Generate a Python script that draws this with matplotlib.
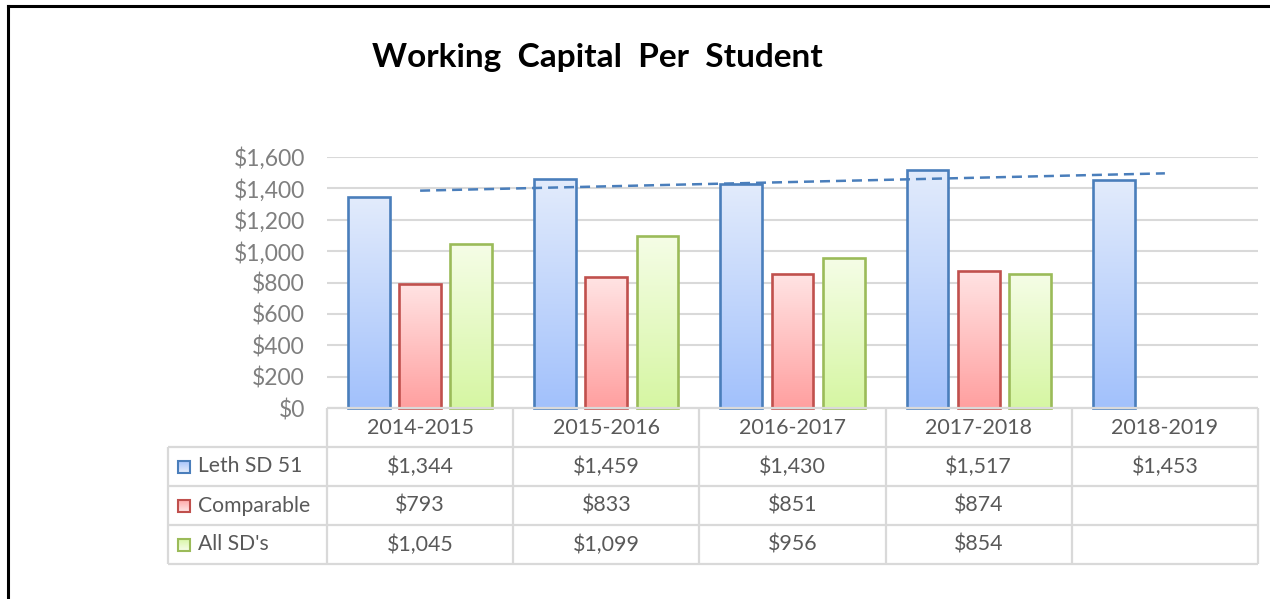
#!/usr/bin/env python3

import matplotlib as mpl
mpl.use('Agg')
import matplotlib.pyplot as plt
import numpy as np
from matplotlib.colors import LinearSegmentedColormap
from matplotlib.lines import Line2D
from matplotlib.patches import Rectangle

#======================================================================

years = ['2014-2015', '2015-2016', '2016-2017', '2017-2018', '2018-2019']
series_names = ['Leth SD 51', 'Comparable', "All SD's"]
leth = [1344, 1459, 1430, 1517, 1453]
comparable = [793, 833, 851, 874, None]
all_sds = [1045, 1099, 956, 854, None]
yticks = [0, 200, 400, 600, 800, 1000, 1200, 1400, 1600]
title = 'Working  Capital  Per  Student'

# (top colour, bottom colour, edge colour)
styles = [
    ('#e2ebfc', '#a2c1fb', '#4a7ebb'),  # blue
    ('#ffe3e3', '#ffa0a0', '#c0504d'),  # red
    ('#f5fde6', '#d6f6a3', '#9bbb59'),  # green
]

W, H = 1270, 599
TICK_COLOR = '#7f7f7f'
TEXT_COLOR = '#595959'
GRID_COLOR = '#d9d9d9'

plt.rcParams['font.family'] = ['Lato', 'DejaVu Sans']

#======================================================================

def px_axes(fig, x0, y0, x1, y1):
    return fig.add_axes([x0/W, 1 - y1/H, (x1 - x0)/W, (y1 - y0)/H])

def gradient_rect(ax, x0, y0, w, h, style, lw=1.5, zorder=3):
    top, bottom, edge = style
    cmap = LinearSegmentedColormap.from_list('g', [top, bottom])
    grad = np.linspace(0, 1, 64).reshape(-1, 1)
    im = ax.imshow(grad, cmap=cmap, extent=(x0, x0 + w, y0, y0 + h),
                   origin='upper' if h > 0 else 'lower', aspect='auto',
                   zorder=zorder - 0.5, interpolation='bilinear')
    rect = Rectangle((x0, y0), w, h, facecolor='none', edgecolor=edge,
                     lw=lw, zorder=zorder, clip_on=False)
    ax.add_patch(rect)
    im.set_clip_path(rect)
    return rect

#======================================================================

fig = plt.figure(figsize=(W/100, H/100), dpi=100)

# chart area
ax = px_axes(fig, 327, 157, 1258, 408)
for s in ax.spines.values():
    s.set_visible(False)

all_series = [leth, comparable, all_sds]
offsets = [-0.275, 0.0, 0.275]
bw = 0.225
for vals, off, style in zip(all_series, offsets, styles):
    for i, v in enumerate(vals):
        if v is None:
            continue
        gradient_rect(ax, i + off - bw/2, 0, bw, v, style, lw=1.9)

# linear trendline of Leth SD 51
xs = np.arange(len(leth))
coef = np.polyfit(xs, leth, 1)
ax.plot(xs[[0, -1]], np.polyval(coef, xs[[0, -1]]), color='#4a7ebb',
        lw=1.8, ls=(0, (4.0, 2.4)), zorder=4)

ax.set_xlim(-0.5, len(years) - 0.5)
ax.set_ylim(0, 1600)
ax.set_xticks([])
ax.set_yticks(yticks)
ax.set_yticklabels([f'${v:,}' for v in yticks])
ax.tick_params(axis='y', length=0, pad=16, labelsize=16.5,
               labelcolor=TICK_COLOR)
ax.yaxis.grid(True, color=GRID_COLOR, lw=1.5)
ax.set_axisbelow(True)

# data table
tax = px_axes(fig, 168, 408, 1258, 564)
left = -0.5 - (327 - 168)/186.2
tax.set_xlim(left, len(years) - 0.5)
tax.set_ylim(4, 0)
tax.axis('off')

lk = dict(color=GRID_COLOR, lw=1.6, clip_on=False, solid_capstyle='butt')
tax.plot([-0.5, len(years) - 0.5], [0, 0], **lk)
for r in range(1, 5):
    tax.plot([left, len(years) - 0.5], [r, r], **lk)
for c in range(len(years) + 1):
    tax.plot([c - 0.5, c - 0.5], [0, 4], **lk)
tax.plot([left, left], [1, 4], **lk)

for i, yr in enumerate(years):
    tax.text(i, 0.5, yr, ha='center', va='center', fontsize=15.4,
             color=TEXT_COLOR)

sq_w = 12/186.2
sq_h = 12/39
for r, (name, vals, style) in enumerate(zip(series_names, all_series,
                                              styles)):
    yc = r + 1.5
    gradient_rect(tax, left + 10/186.2, yc + sq_h/2, sq_w, -sq_h, style,
                  lw=1.5)
    tax.text(left + 30/186.2, yc, name, ha='left', va='center',
             fontsize=15.2, color=TEXT_COLOR)
    for i, v in enumerate(vals):
        if v is None:
            continue
        tax.text(i, yc, f'${v:,}', ha='center', va='center', fontsize=15.4,
                 color=TEXT_COLOR)
tax.set_xlim(left, len(years) - 0.5)
tax.set_ylim(4, 0)

# title
fig.text(597/W, 1 - 58/H, title, ha='center', va='center', fontsize=24,
         fontweight='bold', color='black')

# picture frame
fig.add_artist(Line2D([8/W, 8/W], [0, 1 - 6/H], color='black', lw=2.2))
fig.add_artist(Line2D([8/W, 1], [1 - 6/H, 1 - 6/H], color='black', lw=2.2))

fig.savefig('out.png', dpi=100)
plt.close()
